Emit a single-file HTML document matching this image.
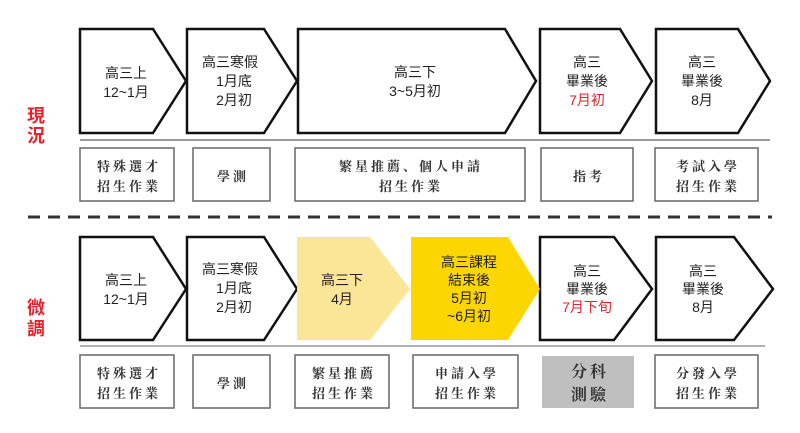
<!DOCTYPE html>
<html><head><meta charset="utf-8"><style>
body{margin:0;background:#fff;width:800px;height:428px;overflow:hidden}
text{font-family:"Liberation Sans","Noto Sans CJK TC",sans-serif;font-size:14px;fill:#222;text-anchor:middle}
.s{font-family:"Noto Serif CJK SC","Noto Sans CJK TC",serif;font-size:13px;letter-spacing:3px;fill:#333;font-weight:bold}
.r{fill:#e8202a;font-size:18px;font-weight:bold}
</style></head><body>
<svg width="800" height="428" xmlns="http://www.w3.org/2000/svg">
<g fill="#fff" stroke="#111" stroke-width="2.5" stroke-linejoin="miter">
<polygon points="80,29 153,29 186,81 153,133 80,133"/>
<polygon points="187,29 264,29 297,81 264,133 187,133"/>
<polygon points="298,29 505,29 536,81 505,133 298,133"/>
<polygon points="540,29 620,29 652,81 620,133 540,133"/>
<polygon points="656,29 738,29 770,81 738,133 656,133"/>
<polygon points="80,237 153,237 186,289 153,340 80,340"/>
<polygon points="187,237 264,237 297,289 264,340 187,340"/>
<polygon points="540,237 614,237 652,289 614,340 540,340"/>
<polygon points="656,237 734,237 773,289 734,340 656,340"/>
</g>
<polygon points="297,237 370,237 410,289 370,340 297,340" fill="#fbe597"/>
<polygon points="411,237 508,237 540,289 508,340 411,340" fill="#fcd600"/>
<line x1="80" y1="140" x2="770" y2="140" stroke="#999" stroke-width="2"/>
<line x1="80" y1="346" x2="765" y2="346" stroke="#999" stroke-width="1.5"/>
<line x1="28" y1="217" x2="772" y2="217" stroke="#333" stroke-width="3" stroke-dasharray="12,8"/>
<g fill="#fff" stroke="#666" stroke-width="1.5">
<rect x="80" y="148" width="94" height="53"/><rect x="193" y="148" width="77" height="53"/>
<rect x="295" y="148" width="230" height="53"/><rect x="541" y="148" width="92" height="53"/>
<rect x="655" y="148" width="103" height="53"/>
<rect x="80" y="355" width="94" height="53"/><rect x="193" y="355" width="77" height="53"/>
<rect x="295" y="355" width="94" height="53"/><rect x="413" y="355" width="105" height="53"/>
<rect x="655" y="355" width="103" height="53"/>
</g>
<rect x="542" y="356" width="92" height="52" fill="#bfbfbf"/>
<text class="r" x="36" y="122">現</text><text class="r" x="36" y="142">況</text>
<text class="r" x="36" y="314">微</text><text class="r" x="36" y="335">調</text>
<text x="126" y="78">高三上</text><text x="126" y="97">12~1月</text>
<text x="230" y="67">高三寒假</text><text x="234" y="86">1月底</text><text x="234" y="105">2月初</text>
<text x="415" y="77">高三下</text><text x="415" y="96">3~5月初</text>
<text x="587" y="67">高三</text><text x="587" y="86">畢業後</text><text x="587" y="105" style="fill:#e8202a">7月初</text>
<text x="702" y="67">高三</text><text x="702" y="86">畢業後</text><text x="702" y="105">8月</text>
<text x="126" y="285">高三上</text><text x="126" y="304">12~1月</text>
<text x="230" y="274">高三寒假</text><text x="234" y="293">1月底</text><text x="234" y="312">2月初</text>
<text x="342" y="285">高三下</text><text x="342" y="304">4月</text>
<text x="469" y="267">高三課程</text><text x="469" y="285">結束後</text><text x="469" y="303">5月初</text><text x="469" y="321">~6月初</text>
<text x="587" y="276">高三</text><text x="587" y="294">畢業後</text><text x="587" y="312" style="fill:#e8202a">7月下旬</text>
<text x="703" y="276">高三</text><text x="703" y="294">畢業後</text><text x="703" y="312">8月</text>
<text class="s" x="129" y="171">特殊選才</text><text class="s" x="129" y="191">招生作業</text>
<text class="s" x="233" y="181">學測</text>
<text class="s" x="411" y="171">繁星推薦、個人申請</text><text class="s" x="411" y="191">招生作業</text>
<text class="s" x="589" y="181">指考</text>
<text class="s" x="708" y="171">考試入學</text><text class="s" x="708" y="191">招生作業</text>
<text class="s" x="129" y="378">特殊選才</text><text class="s" x="129" y="398">招生作業</text>
<text class="s" x="233" y="388">學測</text>
<text class="s" x="344" y="378">繁星推薦</text><text class="s" x="344" y="398">招生作業</text>
<text class="s" x="467" y="378">申請入學</text><text class="s" x="467" y="398">招生作業</text>
<text class="s" x="590" y="377" style="font-size:16px">分科</text><text class="s" x="590" y="400" style="font-size:16px">測驗</text>
<text class="s" x="708" y="378">分發入學</text><text class="s" x="708" y="398">招生作業</text>
</svg>
</body></html>
